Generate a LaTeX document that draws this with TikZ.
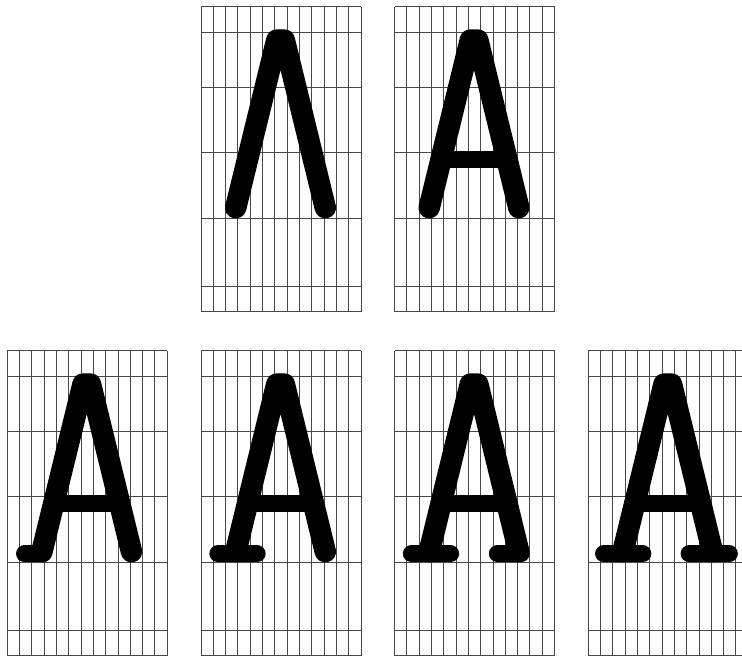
\documentclass[tikz,border=0pt]{standalone}
\usepackage{tikz}
\tikzset{
  gridline/.style = {black!72,line width=0.9pt},
  glyph/.style    = {black,line width=17.3pt,line cap=round,line join=round},
  stem/.style     = {glyph,line width=21.5pt}
}
\newcommand{\glyphgrid}[2]{%
  \begin{scope}[shift={(#1,#2)}]
    \foreach \c in {0,...,13} \draw[gridline] (\c*12.31,0) -- (\c*12.31,305);
    \foreach \r in {0,25.6,81,146,212,279.3,305} \draw[gridline] (0,\r) -- (160,\r);
  \end{scope}
}
\newcommand{\stems}{\draw[stem] (34.7,201) -- (75.8,33.4) -- (83.3,33.4) -- (124.3,201);}
\newcommand{\crossbar}{\draw[glyph] (48,153) -- (111,153);}

\begin{document}
\begin{tikzpicture}[x=1pt,y=-1pt]
  \useasboundingbox (0,0) rectangle (742,657);
  \clip (0,0) rectangle (742,657);
  \glyphgrid{201}{6.7}
  \glyphgrid{394.5}{6.7}
  \glyphgrid{7.2}{350.7}
  \glyphgrid{201}{350.7}
  \glyphgrid{394.5}{350.7}
  \glyphgrid{588.2}{350.7}
  \begin{scope}[shift={(201,6.7)}]
    \stems
  \end{scope}
  \begin{scope}[shift={(394.5,6.7)}]
    \stems
    \crossbar
  \end{scope}
  \begin{scope}[shift={(7.2,350.7)}]
    \stems
    \draw[glyph] (17.5,203.1) -- (36,203.1);
    \crossbar
  \end{scope}
  \begin{scope}[shift={(201,350.7)}]
    \stems
    \draw[glyph] (17,203.1) -- (56,203.1);
    \crossbar
  \end{scope}
  \begin{scope}[shift={(394.5,350.7)}]
    \stems
    \draw[glyph] (17,203.1) -- (56,203.1);
    \draw[glyph] (103,203.1) -- (126.5,203.1);
    \crossbar
  \end{scope}
  \begin{scope}[shift={(588.2,350.7)}]
    \stems
    \draw[glyph] (15.5,203.1) -- (54.5,203.1);
    \draw[glyph] (101,203.1) -- (141,203.1);
    \crossbar
  \end{scope}
\end{tikzpicture}
\end{document}
